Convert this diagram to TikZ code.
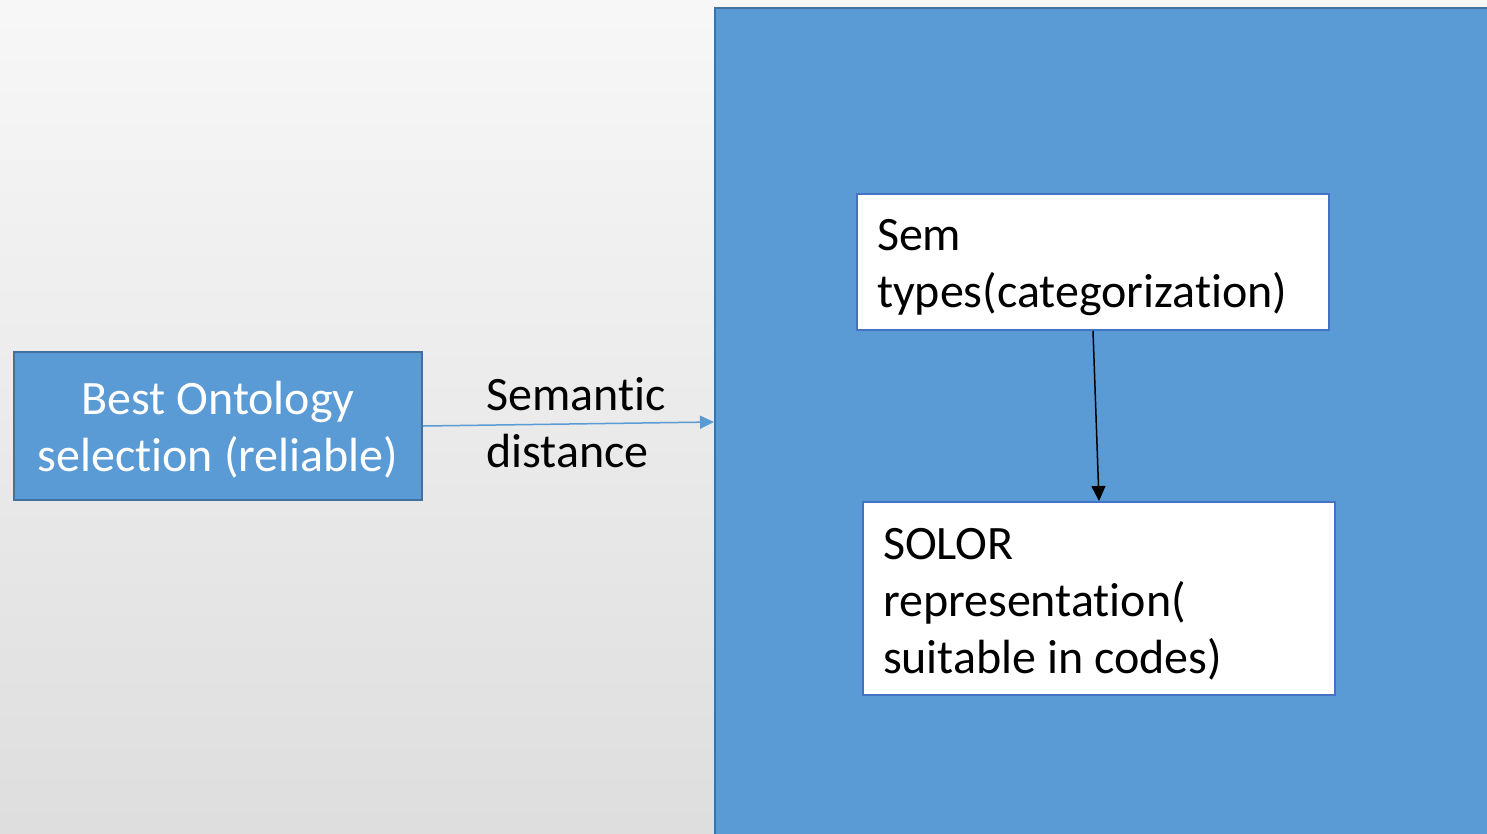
\documentclass[tikz,border=0pt]{standalone}
\usepackage{fontspec}
\setmainfont[Ligatures=NoCommon]{Carlito}
\usetikzlibrary{arrows.meta}
\definecolor{boxblue}{HTML}{5B9BD5}
\definecolor{boxedge}{HTML}{41719C}
\definecolor{inedge}{HTML}{4472C4}
\tikzset{
  bigtext/.style={font=\fontsize{48}{57}\selectfont},
  bluebox/.style={draw=boxedge, fill=boxblue, line width=2pt, inner sep=0pt},
  whitebox/.style={draw=inedge, fill=white, line width=2pt, inner xsep=20pt, inner ysep=0pt,
    align=flush left, text width=432pt, bigtext}
}
\begin{document}
\begin{tikzpicture}[x=1pt,y=-1pt]
\useasboundingbox (0,0) rectangle (1487,833);
\shade[top color=white!97!black, bottom color=white!87!black] (0,0) rectangle (1487,833);
\clip (0,0) rectangle (1487,833);
\node[bluebox, minimum width=785pt, minimum height=828pt] (panel) at (1107.5,422) {};
\node[bluebox, minimum width=408pt, minimum height=148pt, text=white, align=center, bigtext, text depth=0pt] (best) at (218,426) {Best Ontology\\selection (reliable)};
\node[bigtext, align=left, inner sep=0pt, anchor=west] (dist) at (486,423) {Semantic\\distance};
\node[whitebox, minimum height=136pt, text depth=54pt] (sem) at (1093,262) {Sem\\types(categorization)};
\node[whitebox, minimum height=193pt, text depth=109pt] (solor) at (1099,598.5) {SOLOR\\representation(\\suitable in codes)};
\path[draw,boxblue,line width=1.5pt,-{Triangle[length=14pt,width=13pt]}] (best.east) -- (panel.west);
\path[draw,black,line width=1.5pt,-{Triangle[length=15pt,width=14pt]}] (sem.south) -- (solor.north);
\end{tikzpicture}
\end{document}
